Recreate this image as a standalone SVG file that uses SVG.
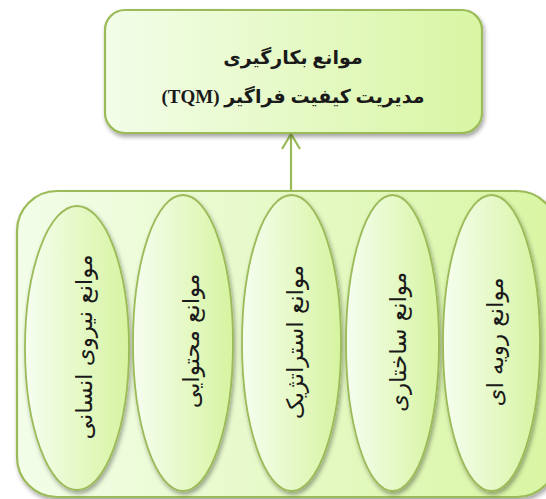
<svg xmlns="http://www.w3.org/2000/svg" width="546" height="499" viewBox="0 0 546 499">
  <defs>
    <linearGradient id="gFill" x1="0" y1="0" x2="1" y2="0">
      <stop offset="0" stop-color="#f3fde9"/>
      <stop offset="1" stop-color="#d8f6a3"/>
    </linearGradient>
    <linearGradient id="gOval" x1="0" y1="0" x2="1" y2="0">
      <stop offset="0" stop-color="#f6fef0"/>
      <stop offset="1" stop-color="#d6f4a0"/>
    </linearGradient>
    <filter id="shadow" x="-20%" y="-20%" width="140%" height="140%">
      <feDropShadow dx="1.5" dy="3" stdDeviation="2" flood-color="#000" flood-opacity="0.35"/>
    </filter>
    <!-- open chevron head, drawn along +x so orient="auto" points it with the line -->
    <marker id="openArrow" markerWidth="20" markerHeight="24" refX="16" refY="12" orient="auto" markerUnits="userSpaceOnUse">
      <path d="M1,3 L16,12 L1,21" fill="none" stroke="#9bbb59" stroke-width="2.2"/>
    </marker>
  </defs>
  <style>
    .box { fill: url(#gFill); stroke: #9bbb59; stroke-width: 2.2; filter: url(#shadow); }
    .oval { fill: url(#gOval); stroke: #9bbb59; stroke-width: 1.8; filter: url(#shadow); }
    .title { font-family: "Liberation Serif", "DejaVu Sans", serif; font-weight: bold; font-size: 19px; fill: #1a1a1a; }
    .label { font-family: "DejaVu Sans", sans-serif; font-size: 23px; fill: #1a1a1a; }
    .wire { fill: none; stroke: #9bbb59; stroke-width: 2.2; }
  </style>

  <!-- container holding the five categories -->
  <g id="container">
    <rect class="box" x="17" y="191" width="540" height="306" rx="40" ry="40"/>
  </g>

  <!-- link from container up to the main box -->
  <g id="connectors">
    <line class="wire" x1="291" y1="191" x2="291" y2="134" marker-end="url(#openArrow)"/>
  </g>

  <!-- main box -->
  <g id="main">
    <rect class="box" x="105" y="10" width="377" height="123" rx="20" ry="20"/>
    <text class="title" x="293" y="64" text-anchor="middle" direction="rtl">موانع بکارگیری</text>
    <text class="title" x="293" y="103" text-anchor="middle" direction="rtl">مدیریت کیفیت فراگیر (TQM)</text>
  </g>

  <g id="human">
    <ellipse class="oval" cx="77" cy="348" rx="52" ry="142"/>
    <text class="label" transform="translate(84,347) rotate(-90)" text-anchor="middle" dominant-baseline="central" direction="rtl">موانع نیروی انسانی</text>
  </g>

  <g id="content">
    <ellipse class="oval" cx="183" cy="343" rx="50" ry="148"/>
    <text class="label" transform="translate(191,341) rotate(-90)" text-anchor="middle" dominant-baseline="central" direction="rtl">موانع محتوایی</text>
  </g>

  <g id="strategic">
    <ellipse class="oval" cx="291.5" cy="343" rx="49.5" ry="148"/>
    <text class="label" transform="translate(295,342) rotate(-90)" text-anchor="middle" dominant-baseline="central" direction="rtl">موانع استراتژیک</text>
  </g>

  <g id="structural">
    <ellipse class="oval" cx="392.5" cy="343" rx="46.5" ry="148"/>
    <text class="label" transform="translate(398,342) rotate(-90)" text-anchor="middle" dominant-baseline="central" direction="rtl">موانع ساختاری</text>
  </g>

  <g id="procedural">
    <ellipse class="oval" cx="491.5" cy="343" rx="48.5" ry="148"/>
    <text class="label" transform="translate(495,342) rotate(-90)" text-anchor="middle" dominant-baseline="central" direction="rtl">موانع رویه ای</text>
  </g>
</svg>
